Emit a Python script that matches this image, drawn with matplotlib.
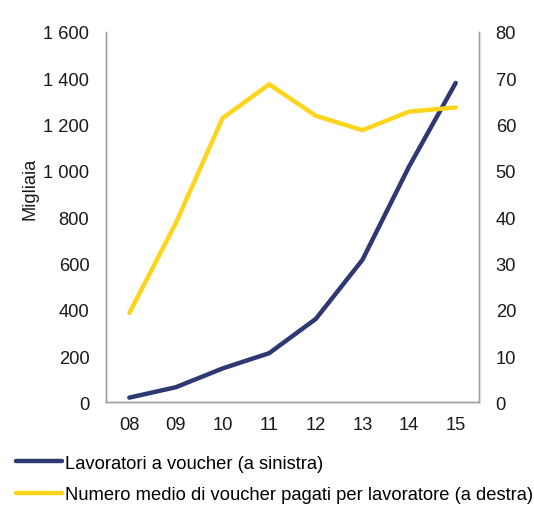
import matplotlib
matplotlib.use("Agg")
import matplotlib.pyplot as plt

plt.rcParams['font.family'] = ['Liberation Sans', 'DejaVu Sans']

# dati
anni = ["08", "09", "10", "11", "12", "13", "14", "15"]
lavoratori = [21, 66, 147, 213, 361, 616, 1019, 1380]  # migliaia, asse sinistro
voucher_medi = [19.3, 38.8, 61.4, 68.7, 61.9, 58.8, 62.8, 63.7]  # asse destro

sinistra_ticks = [0, 200, 400, 600, 800, 1000, 1200, 1400, 1600]
destra_ticks = [0, 10, 20, 30, 40, 50, 60, 70, 80]

blu = "#2E3872"
giallo = "#FFD51C"
grigio = "#A0A0A0"
fs = 13.2

fig = plt.figure(figsize=(5.34, 5.06), dpi=100)
ax = fig.add_axes([0.1985, 0.2026, 0.6985, 0.7322])
ax2 = ax.twinx()

x = list(range(len(anni)))
l1, = ax.plot(x, lavoratori, color=blu, lw=3.2, solid_capstyle="round",
              label="Lavoratori a voucher (a sinistra)")
l2, = ax2.plot(x, voucher_medi, color=giallo, lw=3.2, solid_capstyle="round",
               label="Numero medio di voucher pagati per lavoratore (a destra)")

ax.set_xlim(-0.5, 7.5)
ax.set_ylim(0, 1600)
ax2.set_ylim(0, 80)
ax.set_xticks(x)
ax.set_xticklabels(anni)
ax.set_yticks(sinistra_ticks)
ax.set_yticklabels([f"{v:,}".replace(",", " ") for v in sinistra_ticks])
ax2.set_yticks(destra_ticks)

for a in (ax, ax2):
    for s in a.spines.values():
        s.set_color(grigio)
        s.set_linewidth(1.0)
    a.spines["top"].set_visible(False)
    a.tick_params(length=0, labelsize=fs, colors="#1a1a1a")
ax.tick_params(axis="y", pad=12)
ax2.tick_params(axis="y", pad=12)
ax.tick_params(axis="x", pad=10)

fig.text(30 / 534, 1 - 189 / 506, "Migliaia", rotation=90, ha="center",
         va="center", fontsize=fs, color="#1a1a1a")

fig.legend(handles=[l1, l2], loc="upper left", bbox_to_anchor=(0.03, 0.099),
           frameon=False, fontsize=fs, handlelength=2.5, handletextpad=0.15,
           labelspacing=0.77, borderaxespad=0, borderpad=0)

fig.savefig("out.png", dpi=100)
